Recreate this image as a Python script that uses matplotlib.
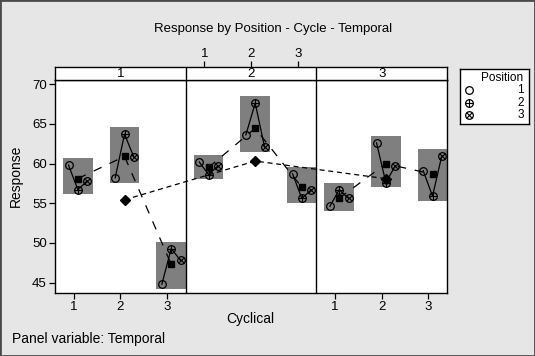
"""Multi-vari chart: Response by Position - Cycle - Temporal."""

import numpy as np
import matplotlib
matplotlib.use('Agg')
import matplotlib.pyplot as plt
from matplotlib import font_manager
from matplotlib.patches import Rectangle

# data, ordered (temporal, cyclical) = (1,1) (1,2) (1,3) (2,1) ... (3,3)
temporal = [1, 1, 1, 2, 2, 2, 3, 3, 3]
cyclical = [1, 2, 3, 1, 2, 3, 1, 2, 3]
pos1 = [59.8, 58.2, 44.8, 60.2, 63.6, 58.7, 54.6, 62.6, 59.1]
pos2 = [56.7, 63.7, 49.3, 58.6, 67.6, 55.6, 56.7, 57.6, 55.9]
pos3 = [57.8, 60.8, 47.8, 59.7, 62.1, 56.7, 55.6, 59.7, 61.0]
yticks = [45, 50, 55, 60, 65, 70]

names = {f.name for f in font_manager.fontManager.ttflist}
narrow = 'Liberation Sans Narrow' if 'Liberation Sans Narrow' in names else 'Liberation Sans'
plt.rcParams['font.family'] = [narrow, 'DejaVu Sans']

BG = '#e6e6e6'
BOX = '#7f7f7f'
PW = 2.8          # width of one panel in x units
SHIFT = 0.09      # group centre offset from the cyclical tick
OFF = 0.2         # position offset inside a group

fig = plt.figure(figsize=(5.35, 3.56), dpi=100, facecolor=BG)
fig.patches.append(Rectangle((0, 0), 1, 1, transform=fig.transFigure,
                             fill=False, edgecolor='#4a4a4a', lw=2.0))

ax = fig.add_axes([0.1028, 0.177, 0.7327, 0.5969])
strip = fig.add_axes([0.1028, 0.7739, 0.7327, 0.0393])

vals = np.array([pos1, pos2, pos3])       # shape (3 positions, 9 groups)
cyc_mean = vals.mean(axis=0)
xc = np.array([(t - 1) * PW + c + SHIFT for t, c in zip(temporal, cyclical)])

for i in range(len(xc)):
    lo, hi = vals[:, i].min(), vals[:, i].max()
    ax.add_patch(Rectangle((xc[i] - 0.32, lo - 0.6), 0.64, hi - lo + 1.45,
                           facecolor=BOX, edgecolor='none', zorder=1))
    px = xc[i] + np.array([-OFF, 0, OFF])
    ax.plot(px, vals[:, i], color='black', lw=0.9, zorder=3)

# cyclical means joined within each temporal panel
tmp_x, tmp_y = [], []
for t in [1, 2, 3]:
    idx = [i for i in range(9) if temporal[i] == t]
    ax.plot(xc[idx], cyc_mean[idx], color='black', lw=0.9, dashes=(7, 7), zorder=3)
    tmp_x.append(xc[idx][1])
    tmp_y.append(cyc_mean[idx].mean())
ax.plot(tmp_x, tmp_y, color='black', lw=0.9, dashes=(4, 3), zorder=3)

# position markers
mk = dict(ms=5.5, mec='black', mfc='none', mew=0.9, ls='none', zorder=5)
ax.plot(xc - OFF, vals[0], marker='o', **mk)
ax.plot(xc, vals[1], marker='o', **mk)
ax.plot(xc, vals[1], marker='+', ms=5.5, mec='black', mew=0.8, ls='none', zorder=5)
ax.plot(xc + OFF, vals[2], marker='o', **mk)
ax.plot(xc + OFF, vals[2], marker='x', ms=3.8, mec='black', mew=0.8, ls='none', zorder=5)
ax.plot(xc, cyc_mean, marker='s', ms=4.5, color='black', ls='none', zorder=6)
ax.plot(tmp_x, tmp_y, marker='D', ms=5, color='black', ls='none', zorder=6)

xlim = (0.6, 0.6 + 3 * PW)
ax.set_xlim(*xlim)
ax.set_ylim(43.7, 70.45)
strip.set_xlim(*xlim)
for xd in [0.6 + PW, 0.6 + 2 * PW]:
    ax.axvline(xd, color='black', lw=1.0, zorder=7)
    strip.axvline(xd, color='black', lw=1.0)

ax.set_yticks(yticks)
ax.set_yticklabels([str(v) for v in yticks], fontsize=9.5)
bt = [1, 2, 3, 2 * PW + 1, 2 * PW + 2, 2 * PW + 3]
ax.set_xticks(bt)
ax.set_xticklabels(['1', '2', '3', '1', '2', '3'], fontsize=9.5)
ax.tick_params(length=4, width=0.9, color='black', pad=2)
for s in ax.spines.values():
    s.set_linewidth(1.0)

strip.set_facecolor('white')
strip.set_ylim(0, 1)
strip.set_yticks([])
strip.xaxis.tick_top()
strip.set_xticks([PW + 1, PW + 2, PW + 3])
strip.set_xticklabels(['1', '2', '3'], fontsize=9.5)
strip.tick_params(axis='x', length=4, width=0.9, pad=1, labelbottom=False)
for s in strip.spines.values():
    s.set_linewidth(1.0)
for t in [1, 2, 3]:
    strip.text((t - 1) * PW + 2, 0.45, str(t), ha='center', va='center', fontsize=9.5)

fig.text(0.51, 0.918, 'Response by Position - Cycle - Temporal', ha='center',
         va='center', fontsize=9.5)
fig.text(0.468, 0.105, 'Cyclical', ha='center', va='center', fontsize=10)
fig.text(0.029, 0.506, 'Response', ha='center', va='center', rotation=90, fontsize=10)
fig.text(0.022, 0.047, 'Panel variable: Temporal', ha='left', va='center', fontsize=10)

# legend box
lg = fig.add_axes([0.860, 0.6525, 0.129, 0.1545])
lg.set_xlim(0, 1)
lg.set_ylim(0, 1)
lg.set_xticks([])
lg.set_yticks([])
for s in lg.spines.values():
    s.set_linewidth(1.0)
lg.text(0.92, 0.84, 'Position', ha='right', va='center', fontsize=8.5)
ly = [0.61, 0.38, 0.16]
extra = [None, '+', 'x']
for k in range(3):
    lg.plot([0.13], [ly[k]], marker='o', **mk)
    if extra[k]:
        lg.plot([0.13], [ly[k]], marker=extra[k], ms=5.5 if k == 1 else 3.8,
                mec='black', mew=0.8, ls='none', zorder=5)
    lg.text(0.92, ly[k], str(k + 1), ha='right', va='center', fontsize=8.5)

fig.savefig('out.png', dpi=100, facecolor=BG)
